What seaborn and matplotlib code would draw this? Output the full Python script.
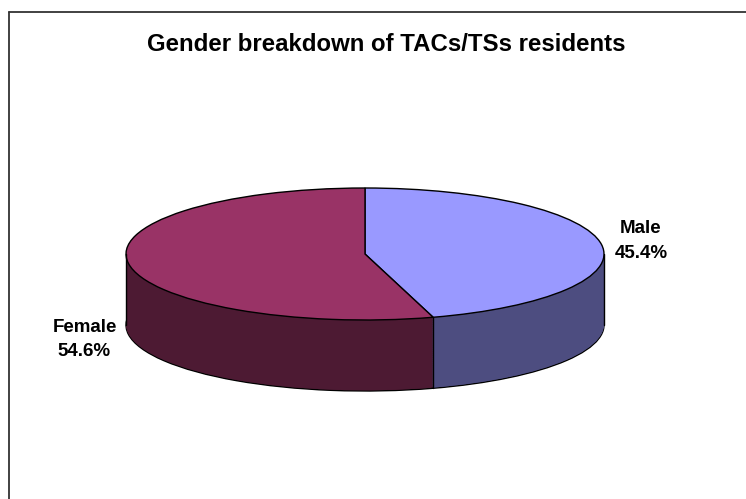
import numpy as np
import seaborn as sns
import matplotlib.pyplot as plt
from matplotlib.lines import Line2D

categories = ['Male', 'Female']
shares = [45.4, 54.6]
top_colors = ['#9999FF', '#993366']
side_colors = ['#4D4D80', '#4D1A33']
title = 'Gender breakdown of TACs/TSs residents'

sns.set_theme(style='white')
plt.rcParams['font.family'] = ['Liberation Sans', 'DejaVu Sans']

W, H = 746, 499
cx, cy, rx, ry, depth = 365, 254, 239, 66, 71

fig = plt.figure(figsize=(W / 100, H / 100), dpi=100)
ax = fig.add_axes([0, 0, 1, 1])
pie_args = dict(startangle=90, counterclock=False, frame=True)

# the thick side is a stack of dark pies, the top is drawn last
d = depth / ry
ax.pie(shares, colors=side_colors, center=(0, -d),
       wedgeprops=dict(edgecolor='black', linewidth=1), **pie_args)
for off in np.arange(d - 0.01, 0, -0.01):
    ax.pie(shares, colors=side_colors, center=(0, -off),
           wedgeprops=dict(linewidth=0), **pie_args)
ax.pie(shares, colors=top_colors,
       wedgeprops=dict(edgecolor='black', linewidth=1), **pie_args)

ax.set_aspect('auto')
ax.set_xlim((0 - cx) / rx, (W - cx) / rx)
ax.set_ylim((cy - H) / ry, cy / ry)
ax.axis('off')

# side edges and the seam between the slices
seam = np.radians(shares[0] / sum(shares) * 360)
for x, y in [(-1, 0), (1, 0), (np.sin(seam), np.cos(seam))]:
    ax.plot([x, x], [y, y - d], color='black', lw=1, zorder=5)

# chart area border: only left and top show in the crop
border = dict(color='#333333', lw=1.3, transform=fig.transFigure)
fig.add_artist(Line2D([9 / W, 9 / W], [0, 1 - 12 / H], **border))
fig.add_artist(Line2D([9 / W, 1], [1 - 12 / H, 1 - 12 / H], **border))

fig.text(386 / W, 1 - 44.5 / H, title, ha='center', va='center',
         fontsize=17.3, fontweight='bold', color='black')
label_style = dict(ha='center', va='center', fontsize=13.5, fontweight='bold',
                   color='black', linespacing=1.6, multialignment='center')
fig.text(641 / W, 1 - 241 / H, f'{categories[0]}\n{shares[0]}%', **label_style)
fig.text(84.5 / W, 1 - 339.5 / H, f'{categories[1]}\n{shares[1]}%', **label_style)

fig.savefig('out.png', dpi=100)
